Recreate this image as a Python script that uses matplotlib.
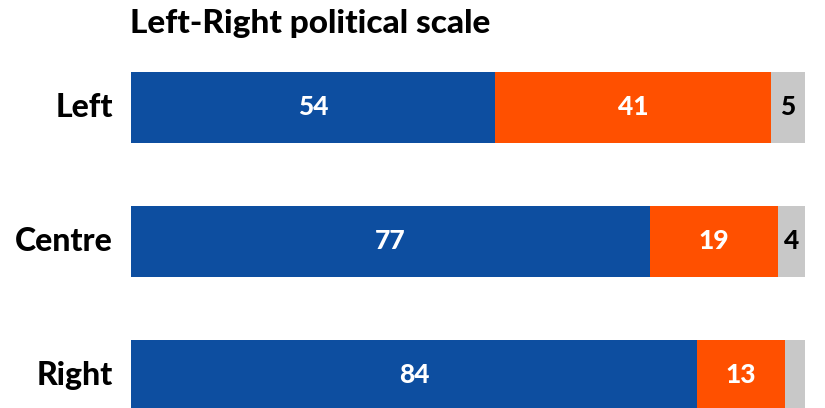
import matplotlib.pyplot as plt
import numpy as np

plt.rcParams['font.family'] = ['Lato', 'DejaVu Sans']

# data
categories = ["Left", "Centre", "Right"]
left_vals = [54, 77, 84]
right_vals = [41, 19, 13]
other_vals = [5, 4, 3]
show_other = [True, True, False]

blue = "#0d4ea0"
orange = "#ff5000"
grey = "#c8c8c8"

fig = plt.figure(figsize=(8.25, 4.08), dpi=100, facecolor='white')
ax = fig.add_axes([131/825, 0, 674/825, 348/408])

y = np.arange(len(categories))
h = 0.53
ax.barh(y, left_vals, height=h, color=blue)
ax.barh(y, right_vals, left=left_vals, height=h, color=orange)
starts = np.array(left_vals) + np.array(right_vals)
ax.barh(y, other_vals, left=starts, height=h, color=grey)

vs = 19
for i in range(len(categories)):
    ax.text(left_vals[i] / 2, i, str(left_vals[i]), ha='center', va='center',
            color='white', fontsize=vs, fontweight='black')
    ax.text(left_vals[i] + right_vals[i] / 2, i, str(right_vals[i]), ha='center', va='center',
            color='white', fontsize=vs, fontweight='black')
    if show_other[i]:
        ax.text(starts[i] + other_vals[i] / 2, i, str(other_vals[i]), ha='center', va='center',
                color='black', fontsize=vs, fontweight='black')

ax.set_xlim(0, 100)
ax.set_ylim(2.243, -0.354)
ax.set_yticks(y)
ax.set_yticklabels(categories, fontsize=23, fontweight='black', va='center')
ax.tick_params(axis='y', length=0, pad=13)
for lbl in ax.get_yticklabels():
    lbl.set_y(lbl.get_position()[1])
ax.set_xticks([])
for s in ax.spines.values():
    s.set_visible(False)

fig.text(130/825, 1 - 24/408, "Left-Right political scale", ha='left', va='center',
         fontsize=24, fontweight='black')

fig.savefig('out.png', dpi=100, facecolor='white')
